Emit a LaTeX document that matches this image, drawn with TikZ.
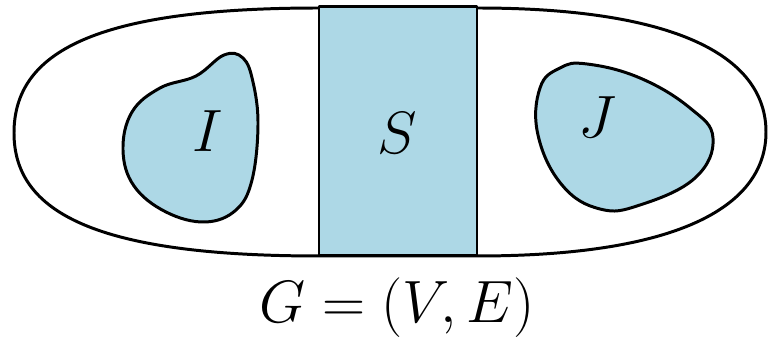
\RequirePackage{fix-cm}
\documentclass[tikz,border=0pt]{standalone}
\usepackage{amsmath,amssymb}
\usepackage{xcolor}
\usepackage{tikz}
\usetikzlibrary{positioning,calc}
\definecolor{SEPblue}{HTML}{ADD8E6}
\tikzset{
  outline/.style={draw=black, line width=1.7pt, line join=round},
  setfill/.style={outline, fill=SEPblue},
  setlabel/.style={inner sep=0pt, font=\fontsize{34}{40}\selectfont}
}

\begin{document}
\begin{tikzpicture}[x=0.02cm, y=-0.02cm]
\useasboundingbox (0,0) rectangle (769,340);
% outer graph region
\draw[outline] (319,8) .. controls (95,8) and (14,52) .. (14,133)
  .. controls (14,212) and (95,256) .. (319,256) -- (477,256)
  .. controls (684,256) and (766,204) .. (766,132)
  .. controls (766,60) and (684,8) .. (477,8) -- cycle;
% separator
\draw[setfill] (319,7) rectangle (477,256);
\node[setlabel] (s) at (397,133) {$S$};
% component I
\draw[setfill] plot[smooth cycle, tension=0.65] coordinates
  {(224,55) (243,58) (253,82) (258,125) (252,180) (236,210) (205,222) (166,212) (134,186) (123,150) (132,112) (160,88) (196,76)};
\node[setlabel] (i) at (208,131) {$I$};
% component J
\draw[setfill] plot[smooth cycle, tension=0.7] coordinates
  {(587,64) (640,78) (690,108) (713,138) (695,178) (640,205) (600,209) (562,185) (538,135) (540,88) (560,68)};
\node[setlabel] (j) at (597,117) {$J$};
\node[setlabel] (g) at (397,308) {$G=(V,E)$};
\end{tikzpicture}
\end{document}
